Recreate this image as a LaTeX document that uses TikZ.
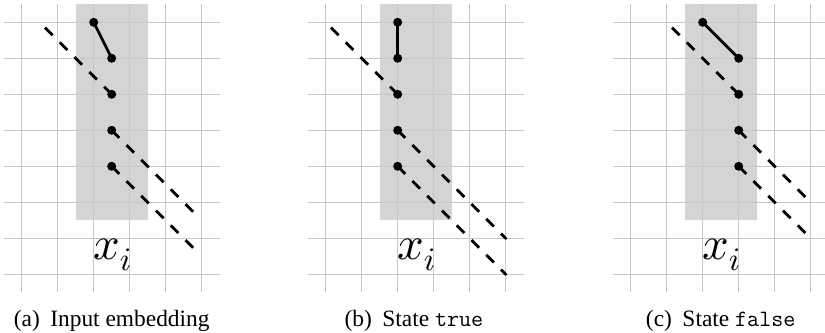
\documentclass[tikz,border=0pt]{standalone}
\usepackage[no-math]{fontspec}
\setmainfont{Liberation Serif}
\DeclareFontShape{OML}{cmm}{m}{it}{<->cmmi10}{}
\usetikzlibrary{positioning}

\begin{document}
\begin{tikzpicture}[
  gridline/.style={draw=black!22,line width=1.2pt},
  band/.style={fill=black!17},
  dot/.style={circle,fill=black,inner sep=0pt,minimum size=0.25cm},
  tipdot/.style={circle,fill=black,inner sep=0pt,minimum size=0.09cm},
  link/.style={line width=2.2pt},
  diag/.style={line width=2.2pt,dash pattern=on 8.5pt off 8pt},
  symb/.style={font=\fontsize{37}{44}\selectfont,anchor=base},
  capt/.style={font=\fontsize{18.5}{22}\selectfont,anchor=base}]
\useasboundingbox (-0.603,0.619) rectangle (22.314,-8.631);

% (a) input embedding
\fill[band] (1.5,0.5) rectangle (3.5,-5.5);
\draw[gridline] (-0.5,0.5) grid (5.5,-7.5);
\node[dot] (a0) at (2,0) {};
\node[dot] (a1) at (2.5,-1) {};
\node[dot] (a2) at (2.5,-2) {};
\node[dot] (a3) at (2.5,-3) {};
\node[dot] (a4) at (2.5,-4) {};
\coordinate (a5) at (0.5,0);
\coordinate (a6) at (4.85,-5.35);
\coordinate (a7) at (4.85,-6.35);
\draw[link] (a0.center) -- (a1.center);
\draw[diag] (a2.center) -- (a5);
\draw[diag] (a3.center) -- (a6);
\draw[diag] (a4.center) -- (a7);
\node[symb] (ax) at (2.52,-6.6) {$x_i$};
\node[capt] (acap) at (2.5,-8.44) {(a)\hspace{0.45em}Input embedding};

% (b) state true
\begin{scope}[xshift=8.444cm]
\fill[band] (1.5,0.5) rectangle (3.5,-5.5);
\draw[gridline] (-0.5,0.5) grid (5.5,-7.5);
\node[dot] (b0) at (2,0) {};
\node[dot] (b1) at (2,-1) {};
\node[dot] (b2) at (2,-2) {};
\node[dot] (b3) at (2,-3) {};
\node[dot] (b4) at (2,-4) {};
\coordinate (b5) at (0,0);
\node[tipdot] (b6) at (5,-6) {};
\node[tipdot] (b7) at (5,-7) {};
\draw[link] (b0.center) -- (b1.center);
\draw[diag] (b2.center) -- (b5);
\draw[diag] (b3.center) -- (b6.center);
\draw[diag] (b4.center) -- (b7.center);
\node[symb] (bx) at (2.52,-6.6) {$x_i$};
\node[capt] (bcap) at (2.45,-8.44) {(b)\hspace{0.45em}State \texttt{true}};
\end{scope}

% (c) state false
\begin{scope}[xshift=16.917cm]
\fill[band] (1.5,0.5) rectangle (3.5,-5.5);
\draw[gridline] (-0.5,0.5) grid (5.5,-7.5);
\node[dot] (c0) at (2,0) {};
\node[dot] (c1) at (3,-1) {};
\node[dot] (c2) at (3,-2) {};
\node[dot] (c3) at (3,-3) {};
\node[dot] (c4) at (3,-4) {};
\coordinate (c5) at (1,0);
\coordinate (c6) at (5,-5);
\coordinate (c7) at (5,-6);
\draw[link] (c0.center) -- (c1.center);
\draw[diag] (c2.center) -- (c5);
\draw[diag] (c3.center) -- (c6);
\draw[diag] (c4.center) -- (c7);
\node[symb] (cx) at (2.52,-6.6) {$x_i$};
\node[capt] (ccap) at (2.5,-8.44) {(c)\hspace{0.45em}State \texttt{false}};
\end{scope}
\end{tikzpicture}
\end{document}
